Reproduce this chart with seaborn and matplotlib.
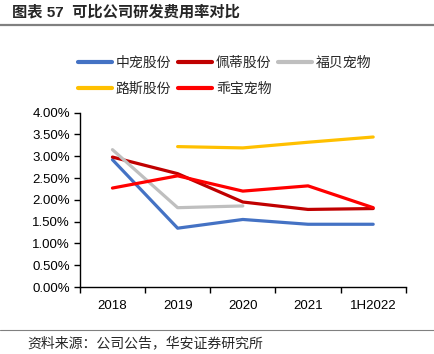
import numpy as np
import pandas as pd
import matplotlib
matplotlib.use("Agg")
import matplotlib.pyplot as plt
from matplotlib.lines import Line2D
from matplotlib.ticker import PercentFormatter, FixedLocator
import seaborn as sns

years = ["2018", "2019", "2020", "2021", "1H2022"]
companies = ["中宠股份", "佩蒂股份", "福贝宠物", "路斯股份", "乖宝宠物"]
zhongchong = [2.92, 1.35, 1.55, 1.44, 1.44]
peidi = [2.98, 2.60, 1.95, 1.78, 1.80]
fubei = [3.15, 1.82, 1.86, np.nan, np.nan]
lusi = [np.nan, 3.22, 3.19, 3.32, 3.44]
guaibao = [2.27, 2.55, 2.20, 2.32, 1.82]
colors = ["#4472C4", "#C00000", "#BFBFBF", "#FFC000", "#FF0000"]

series = [zhongchong, peidi, fubei, lusi, guaibao]
df = pd.DataFrame({
    "year": np.tile(years, len(companies)),
    "company": np.repeat(companies, len(years)),
    "rate": np.concatenate(series),
})

sns.set_theme(style="white")
plt.rcParams["font.family"] = ["Liberation Sans", "Noto Sans CJK SC"]

fig = plt.figure(figsize=(4.34, 3.54), dpi=100)
ax = fig.add_axes([0.184, 0.189, 0.751, 0.493])

sns.lineplot(data=df, x="year", y="rate", hue="company", hue_order=companies,
             palette=colors, linewidth=2.3, sort=False, legend=False, ax=ax)

ax.set_xlim(-0.5, 4.5)
ax.set_ylim(0, 4.0)
ax.set_yticks(np.arange(0, 4.01, 0.5))
ax.yaxis.set_major_formatter(PercentFormatter(100, decimals=2))
ax.xaxis.set_minor_locator(FixedLocator(np.arange(-0.5, 5, 1)))
ax.tick_params(axis="x", which="major", length=0, labelsize=9.5, pad=9, colors="black")
ax.tick_params(axis="x", which="minor", length=4, width=1, color="black", bottom=True)
ax.tick_params(axis="y", length=4, width=1, color="black", left=True, labelsize=9.5, pad=3, labelcolor="black")
ax.set_xlabel("")
ax.set_ylabel("")
for s in ["top", "right"]:
    ax.spines[s].set_visible(False)
for s in ["left", "bottom"]:
    ax.spines[s].set_color("black")
    ax.spines[s].set_linewidth(1)

# legend: row-wise order with 3 columns
handles = [Line2D([], [], color=c, linewidth=3) for c in colors]
order = [0, 3, 1, 4, 2]
fig.legend([handles[i] for i in order], [companies[i] for i in order],
           ncol=3, loc="upper left", bbox_to_anchor=(0.152, 0.878),
           frameon=False, handlelength=2.4, handletextpad=0.3, columnspacing=0.5,
           labelspacing=0.85, prop={"family": "Noto Sans CJK SC", "size": 10})

fig.text(0.028, 0.965, "图表 57  可比公司研发费用率对比", fontsize=11, fontweight="bold",
         family=["Liberation Sans", "Noto Sans CJK SC"], va="center", ha="left")
fig.add_artist(Line2D([0, 1], [0.928, 0.928], color="#808080", linewidth=1.6,
                      transform=fig.transFigure))
fig.add_artist(Line2D([0, 1], [0.068, 0.068], color="#808080", linewidth=0.8,
                      transform=fig.transFigure))
fig.text(0.062, 0.030, "资料来源：公司公告，华安证券研究所", fontsize=10,
         family=["Noto Sans CJK SC"], va="center", ha="left")

fig.savefig("out.png", dpi=100)
